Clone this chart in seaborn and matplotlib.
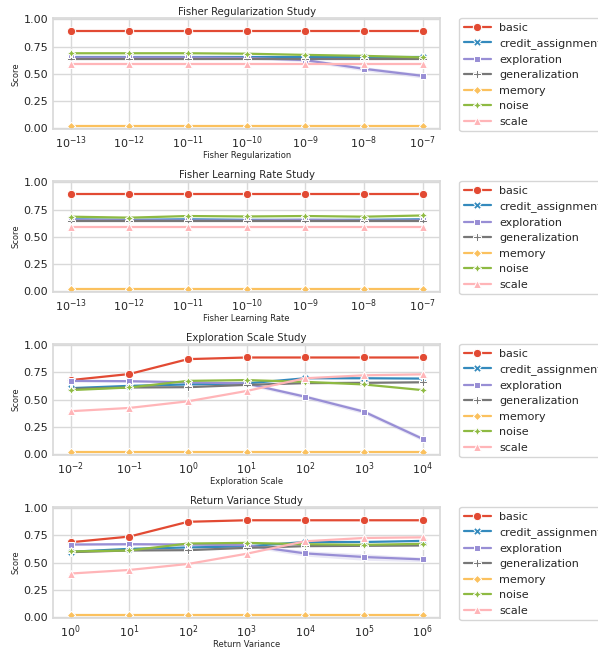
import matplotlib
matplotlib.use("Agg")
import numpy as np
import pandas as pd
import seaborn as sns
import matplotlib.pyplot as plt

tasks = ["basic", "credit_assignment", "exploration", "generalization", "memory", "noise", "scale"]
colors = ["#E24A33", "#348ABD", "#988ED5", "#777777", "#FBC15E", "#8EBA42", "#FFB5B8"]

# Fisher regularization study
fisher_reg = [1e-13, 1e-12, 1e-11, 1e-10, 1e-9, 1e-8, 1e-7]
fisher_reg_scores = {
    "basic":             [0.89, 0.89, 0.89, 0.89, 0.89, 0.89, 0.89],
    "credit_assignment": [0.65, 0.65, 0.65, 0.65, 0.65, 0.65, 0.65],
    "exploration":       [0.65, 0.65, 0.65, 0.645, 0.625, 0.545, 0.48],
    "generalization":    [0.635, 0.635, 0.635, 0.635, 0.635, 0.635, 0.635],
    "memory":            [0.02, 0.02, 0.02, 0.02, 0.02, 0.02, 0.02],
    "noise":             [0.688, 0.688, 0.688, 0.684, 0.673, 0.664, 0.65],
    "scale":             [0.585, 0.585, 0.585, 0.585, 0.585, 0.585, 0.585],
}
fisher_reg_band = [0.01, 0.01, 0.01, 0.01, 0.015, 0.02, 0.02]

# Fisher learning rate study
fisher_lr = [1e-13, 1e-12, 1e-11, 1e-10, 1e-9, 1e-8, 1e-7]
fisher_lr_scores = {
    "basic":             [0.89, 0.89, 0.89, 0.89, 0.89, 0.89, 0.89],
    "credit_assignment": [0.66, 0.655, 0.66, 0.655, 0.655, 0.655, 0.66],
    "exploration":       [0.655, 0.65, 0.65, 0.65, 0.655, 0.65, 0.65],
    "generalization":    [0.64, 0.64, 0.64, 0.64, 0.64, 0.64, 0.64],
    "memory":            [0.02, 0.02, 0.02, 0.02, 0.02, 0.02, 0.02],
    "noise":             [0.684, 0.675, 0.69, 0.686, 0.69, 0.684, 0.695],
    "scale":             [0.585, 0.585, 0.585, 0.585, 0.585, 0.585, 0.585],
}
fisher_lr_band = [0.01, 0.01, 0.01, 0.01, 0.01, 0.01, 0.01]

# Exploration scale study
explore_scale = [1e-2, 1e-1, 1e0, 1e1, 1e2, 1e3, 1e4]
explore_scale_scores = {
    "basic":             [0.68, 0.736, 0.873, 0.888, 0.888, 0.888, 0.888],
    "credit_assignment": [0.606, 0.627, 0.64, 0.65, 0.697, 0.697, 0.694],
    "exploration":       [0.673, 0.67, 0.66, 0.648, 0.527, 0.39, 0.14],
    "generalization":    [0.6, 0.612, 0.615, 0.636, 0.652, 0.655, 0.66],
    "memory":            [0.02, 0.02, 0.02, 0.02, 0.02, 0.02, 0.02],
    "noise":             [0.588, 0.612, 0.673, 0.68, 0.664, 0.64, 0.588],
    "scale":             [0.394, 0.424, 0.485, 0.58, 0.697, 0.724, 0.733],
}
explore_scale_band = [0.01, 0.01, 0.01, 0.015, 0.02, 0.02, 0.02]

# Return variance study
return_var = [1e0, 1e1, 1e2, 1e3, 1e4, 1e5, 1e6]
return_var_scores = {
    "basic":             [0.688, 0.74, 0.876, 0.89, 0.89, 0.89, 0.89],
    "credit_assignment": [0.6, 0.627, 0.64, 0.65, 0.69, 0.69, 0.7],
    "exploration":       [0.667, 0.67, 0.667, 0.66, 0.585, 0.552, 0.53],
    "generalization":    [0.597, 0.612, 0.615, 0.636, 0.652, 0.655, 0.658],
    "memory":            [0.02, 0.02, 0.02, 0.02, 0.02, 0.02, 0.02],
    "noise":             [0.603, 0.612, 0.676, 0.682, 0.67, 0.664, 0.673],
    "scale":             [0.4, 0.433, 0.488, 0.582, 0.697, 0.727, 0.733],
}
return_var_band = [0.01, 0.01, 0.01, 0.015, 0.025, 0.03, 0.02]

panels = [
    ("Fisher Regularization Study", "Fisher Regularization", fisher_reg, fisher_reg_scores, fisher_reg_band),
    ("Fisher Learning Rate Study", "Fisher Learning Rate", fisher_lr, fisher_lr_scores, fisher_lr_band),
    ("Exploration Scale Study", "Exploration Scale", explore_scale, explore_scale_scores, explore_scale_band),
    ("Return Variance Study", "Return Variance", return_var, return_var_scores, return_var_band),
]

sns.set_theme(style="whitegrid", rc={"axes.edgecolor": ".85", "grid.color": ".85"})
plt.rcParams['font.family'] = ['DejaVu Sans']

fig, axes = plt.subplots(4, 1, figsize=(5.98, 6.52), dpi=100)
fig.subplots_adjust(left=0.089, right=0.736, top=0.972, bottom=0.052, hspace=0.47)

for ax, (title, xlabel, xs, scores, band) in zip(axes, panels):
    rows = []
    for t in tasks:
        for x, v in zip(xs, scores[t]):
            rows.append({"x": x, "score": v, "task": t})
    df = pd.DataFrame(rows)

    # shaded spread around the exploration curve
    lo = np.array(scores["exploration"]) - np.array(band)
    hi = np.array(scores["exploration"]) + np.array(band)
    ax.fill_between(xs, lo, hi, color=colors[2], alpha=0.2, lw=0)

    sns.lineplot(data=df, x="x", y="score", hue="task", style="task",
                 hue_order=tasks, style_order=tasks, palette=colors,
                 markers=True, dashes=False, markersize=6, linewidth=1.6,
                 ax=ax)
    ax.set_xscale("log")
    ax.set_ylim(-0.01, 1.01)
    ax.set_yticks([0, 0.25, 0.5, 0.75, 1.0])
    ax.set_title(title, fontsize=7.3, pad=2)
    ax.set_xlabel(xlabel, fontsize=6, labelpad=0)
    ax.set_ylabel("Score", fontsize=6, labelpad=2)
    ax.tick_params(axis="both", labelsize=8, pad=0.5, length=3)
    sns.move_legend(ax, "upper left", bbox_to_anchor=(1.05, 1.0), borderaxespad=0,
                    title=None, fontsize=8, frameon=True, handlelength=2.4)

fig.savefig("out.png", dpi=100)
